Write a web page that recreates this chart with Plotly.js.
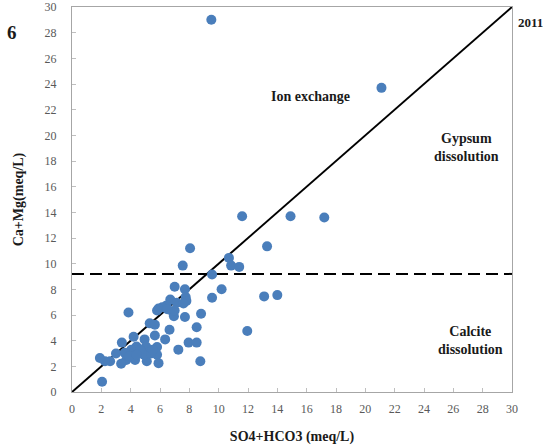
<!DOCTYPE html>
<html>
<head>
<meta charset="utf-8">
<script src="https://cdn.plot.ly/plotly-3.0.1.min.js"></script>
<style>html,body{margin:0;padding:0;background:#fff;}#chart{width:543px;height:448px;}</style>
</head>
<body>
<div id="chart"></div>
<script>
var so4hco3 = [9.5,21.1,11.6,14.9,17.2,13.3,8.05,10.7,10.85,11.4,7.55,9.55,7.0,7.7,10.2,7.75,7.8,6.7,7.15,7.6,9.55,13.1,14.0,6.45,6.15,5.9,5.8,6.9,6.95,7.7,8.8,3.85,8.5,6.65,11.95,5.3,5.65,5.65,6.35,4.2,4.95,3.4,7.95,8.5,7.25,8.75,5.05,5.8,4.4,4.05,4.6,5.2,3.6,5.8,5.9,5.1,4.3,3.7,3.35,2.6,2.25,1.9,2.05,4.9,5.4,3.9,4.65,3.0,5.5,4.4,7.0,6.5];
var camg = [29.0,23.7,13.7,13.7,13.6,11.35,11.2,10.45,9.85,9.75,9.85,9.15,8.2,8.0,8.0,7.4,7.1,7.2,6.95,6.9,7.35,7.45,7.55,6.75,6.6,6.5,6.35,6.15,5.9,5.85,6.1,6.2,5.05,4.85,4.75,5.35,5.25,4.4,4.1,4.3,4.1,3.85,3.85,3.85,3.3,2.4,3.55,3.5,3.55,3.3,3.05,3.05,3.05,2.9,2.25,2.4,2.5,2.5,2.2,2.4,2.4,2.65,0.8,2.9,3.0,2.8,3.3,3.0,3.3,2.9,6.35,6.45];
var oneToOneX = [0, 30];
var oneToOneY = [0, 30];
var thresholdX = [0, 30];
var thresholdY = [9.2, 9.2];
var tickVals = [0,2,4,6,8,10,12,14,16,18,20,22,24,26,28,30];

var serif = "Liberation Serif, Times New Roman, serif";
var traces = [
  {x: oneToOneX, y: oneToOneY, mode: 'lines', line: {color: '#000', width: 2}, hoverinfo: 'skip'},
  {x: thresholdX, y: thresholdY, mode: 'lines', line: {color: '#000', width: 2, dash: '12px,6px'}, hoverinfo: 'skip'},
  {x: so4hco3, y: camg, mode: 'markers', marker: {color: '#4a7ebb', size: 10}}
];
var axisCommon = {
  range: [0, 30], tickvals: tickVals, ticks: 'inside', ticklen: 4, tickcolor: '#bfbfbf',
  showgrid: false, zeroline: false, showline: true, linecolor: '#a6a6a6', linewidth: 1, mirror: true,
  tickfont: {family: serif, size: 12, color: '#595959'}, automargin: false
};
var layout = {
  width: 543, height: 448, showlegend: false,
  margin: {l: 72, r: 31, t: 7, b: 56},
  paper_bgcolor: '#fff', plot_bgcolor: '#fff',
  xaxis: Object.assign({}, axisCommon, {
    ticklabelstandoff: 6,
    title: {text: '<b>SO4+HCO3 (meq/L)</b>', font: {family: serif, size: 14, color: '#1a1a1a'}, standoff: 15}
  }),
  yaxis: Object.assign({}, axisCommon, {
    ticklabelstandoff: 12,
    title: {text: '<b>Ca+Mg(meq/L)</b>', font: {family: serif, size: 14, color: '#1a1a1a'}, standoff: 17}
  }),
  annotations: [
    {text: '<b>Ion exchange</b>', x: 310, y: 97},
    {text: '<b>Gypsum<br>dissolution</b>', x: 466, y: 147},
    {text: '<b>Calcite<br>dissolution</b>', x: 470, y: 340},
    {text: '<b>2011</b>', x: 530, y: 22, fontsize: 13},
    {text: '<b>6</b>', x: 12, y: 32, fontsize: 19}
  ]
};
// convert pixel positions of annotations to paper coords
var pl = 72, pw = 543 - 72 - 31, pt = 7, ph = 448 - 7 - 56;
layout.annotations = layout.annotations.map(function(a){
  var fs = a.fontsize || 14;
  return {
    text: a.text, showarrow: false, xref: 'paper', yref: 'paper',
    x: (a.x - pl) / pw, y: 1 - (a.y - pt) / ph, xanchor: 'center', yanchor: 'middle',
    align: 'center', font: {family: serif, size: fs, color: '#1a1a1a'}
  };
});
Plotly.newPlot('chart', traces, layout, {displayModeBar: false, staticPlot: true});
</script>
</body>
</html>
